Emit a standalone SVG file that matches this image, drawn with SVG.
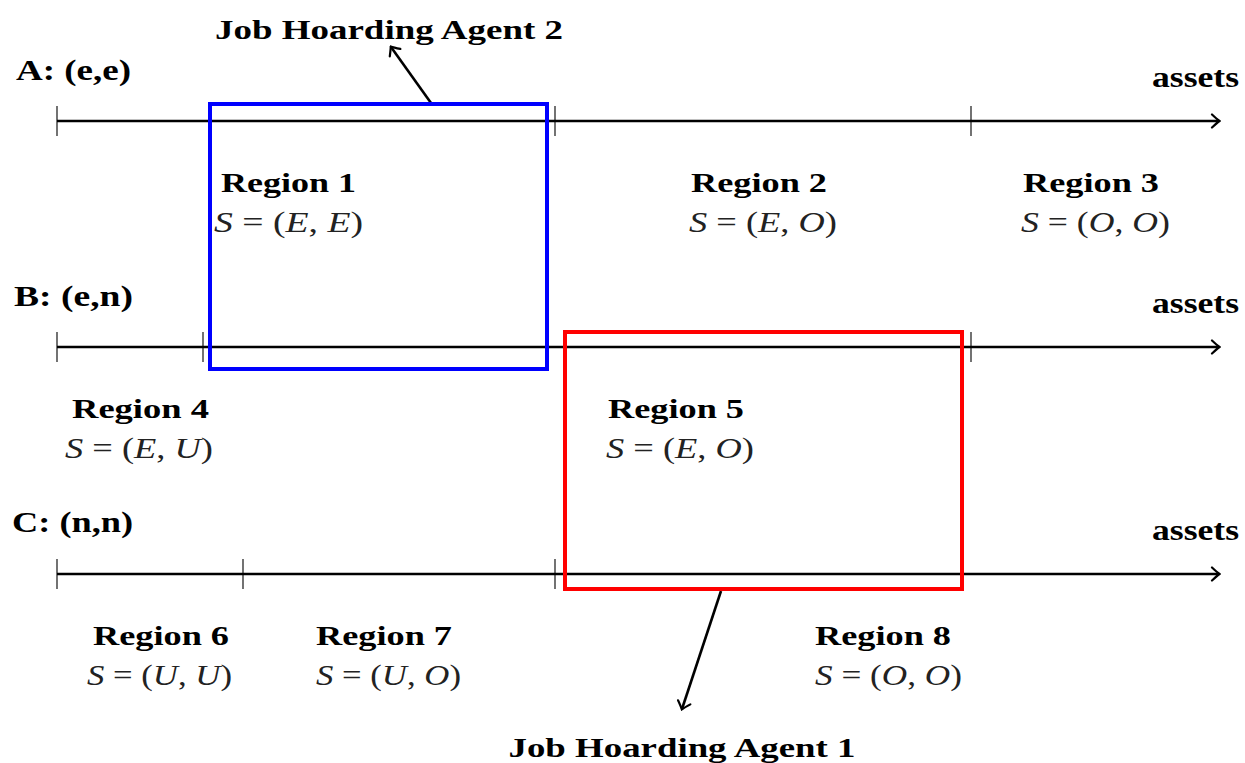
<svg xmlns="http://www.w3.org/2000/svg" width="1245" height="763" viewBox="0 0 1245 763">
<defs>
<marker id="arr" viewBox="-9 -8 11 16" markerWidth="11" markerHeight="16" refX="0" refY="0" orient="auto" markerUnits="userSpaceOnUse">
<path d="M-7,-6.5 Q-2,-1.8 0.5,0 Q-2,1.8 -7,6.5" fill="none" stroke="#000" stroke-width="2.2" stroke-linecap="round"/>
</marker>
<style>
.ax{stroke:#000;stroke-width:2.6;fill:none}
.tk{stroke:#000;stroke-width:1.1;fill:none}
.lb{font-family:"Liberation Serif",serif;font-weight:bold;font-size:29px;fill:#000}
.rl{font-family:"Liberation Serif",serif;font-weight:bold;font-size:28px;fill:#000;text-anchor:middle}
.mt{font-family:"Liberation Serif",serif;font-size:29px;fill:#222;text-anchor:middle}
.it{font-style:italic}
</style>
</defs>
<g id="connectors">
<line class="ax" x1="57" y1="121" x2="1219" y2="121" marker-end="url(#arr)"/>
<line class="ax" x1="57" y1="347" x2="1219" y2="347" marker-end="url(#arr)"/>
<line class="ax" x1="57" y1="574" x2="1219" y2="574" marker-end="url(#arr)"/>
<path class="tk" d="M57,106V136M555,106V136M971,106V136M57,332V362M203,332V362M971,332V362M57,559V589M243,559V589M555,559V589"/>
<line class="ax" x1="431" y1="103" x2="391" y2="47" marker-end="url(#arr)"/>
<line class="ax" x1="721" y1="591" x2="682" y2="709" marker-end="url(#arr)"/>
</g>
<g id="agent2">
<rect x="210" y="104" width="337" height="265" fill="none" stroke="#0000ff" stroke-width="4"/>
<text class="rl" x="389" y="39" textLength="348" lengthAdjust="spacingAndGlyphs">Job Hoarding Agent 2</text>
</g>
<g id="agent1">
<rect x="565" y="332" width="397" height="257" fill="none" stroke="#ff0000" stroke-width="4"/>
<text class="rl" x="682" y="757" textLength="347" lengthAdjust="spacingAndGlyphs">Job Hoarding Agent 1</text>
</g>
<g id="rowA">
<text class="lb" x="16" y="80" textLength="115" lengthAdjust="spacingAndGlyphs">A: (e,e)</text>
<text class="lb" x="1152" y="87" textLength="87" lengthAdjust="spacingAndGlyphs">assets</text>
</g>
<g id="rowB">
<text class="lb" x="14" y="306" textLength="119" lengthAdjust="spacingAndGlyphs">B: (e,n)</text>
<text class="lb" x="1152" y="313" textLength="87" lengthAdjust="spacingAndGlyphs">assets</text>
</g>
<g id="rowC">
<text class="lb" x="12" y="532" textLength="121" lengthAdjust="spacingAndGlyphs">C: (n,n)</text>
<text class="lb" x="1152" y="540" textLength="87" lengthAdjust="spacingAndGlyphs">assets</text>
</g>
<g id="region1">
<text class="rl" x="288.5" y="192" textLength="135" lengthAdjust="spacingAndGlyphs">Region 1</text>
<text class="mt" x="288.5" y="232" textLength="149" lengthAdjust="spacingAndGlyphs"><tspan class="it">S</tspan> = (<tspan class="it">E</tspan>, <tspan class="it">E</tspan>)</text>
</g>
<g id="region2">
<text class="rl" x="759" y="192" textLength="136" lengthAdjust="spacingAndGlyphs">Region 2</text>
<text class="mt" x="763" y="232" textLength="148" lengthAdjust="spacingAndGlyphs"><tspan class="it">S</tspan> = (<tspan class="it">E</tspan>, <tspan class="it">O</tspan>)</text>
</g>
<g id="region3">
<text class="rl" x="1091" y="192" textLength="136" lengthAdjust="spacingAndGlyphs">Region 3</text>
<text class="mt" x="1095.5" y="232" textLength="149" lengthAdjust="spacingAndGlyphs"><tspan class="it">S</tspan> = (<tspan class="it">O</tspan>, <tspan class="it">O</tspan>)</text>
</g>
<g id="region4">
<text class="rl" x="140.5" y="418" textLength="137" lengthAdjust="spacingAndGlyphs">Region 4</text>
<text class="mt" x="139" y="458" textLength="148" lengthAdjust="spacingAndGlyphs"><tspan class="it">S</tspan> = (<tspan class="it">E</tspan>, <tspan class="it">U</tspan>)</text>
</g>
<g id="region5">
<text class="rl" x="676" y="418" textLength="136" lengthAdjust="spacingAndGlyphs">Region 5</text>
<text class="mt" x="680" y="458" textLength="148" lengthAdjust="spacingAndGlyphs"><tspan class="it">S</tspan> = (<tspan class="it">E</tspan>, <tspan class="it">O</tspan>)</text>
</g>
<g id="region6">
<text class="rl" x="161" y="645" textLength="136" lengthAdjust="spacingAndGlyphs">Region 6</text>
<text class="mt" x="159.5" y="685" textLength="145" lengthAdjust="spacingAndGlyphs"><tspan class="it">S</tspan> = (<tspan class="it">U</tspan>, <tspan class="it">U</tspan>)</text>
</g>
<g id="region7">
<text class="rl" x="384" y="645" textLength="136" lengthAdjust="spacingAndGlyphs">Region 7</text>
<text class="mt" x="388.5" y="685" textLength="145" lengthAdjust="spacingAndGlyphs"><tspan class="it">S</tspan> = (<tspan class="it">U</tspan>, <tspan class="it">O</tspan>)</text>
</g>
<g id="region8">
<text class="rl" x="883" y="645" textLength="136" lengthAdjust="spacingAndGlyphs">Region 8</text>
<text class="mt" x="888.5" y="685" textLength="147" lengthAdjust="spacingAndGlyphs"><tspan class="it">S</tspan> = (<tspan class="it">O</tspan>, <tspan class="it">O</tspan>)</text>
</g>
</svg>
